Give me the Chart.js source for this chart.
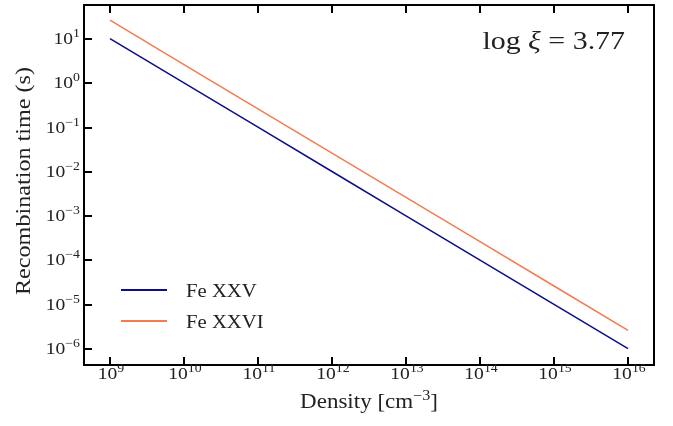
<!DOCTYPE html>
<html><head><meta charset="utf-8">
<script src="https://cdn.jsdelivr.net/npm/chart.js@4/dist/chart.umd.min.js"></script>
<style>html,body{margin:0;padding:0;background:#fff}#w{width:673px;height:426px}</style>
</head><body><div id="w"><canvas id="c"></canvas></div>
<script>
const density = [1e9, 1e10, 1e11, 1e12, 1e13, 1e14, 1e15, 1e16];
const feXXV = [10.2, 1.02, 0.102, 0.0102, 1.02e-3, 1.02e-4, 1.02e-5, 1.02e-6];
const feXXVI = [26.5, 2.65, 0.265, 0.0265, 2.65e-3, 2.65e-4, 2.65e-5, 2.65e-6];
const xTickExps = [9, 10, 11, 12, 13, 14, 15, 16];
const yTickExps = [-6, -5, -4, -3, -2, -1, 0, 1];
const seriesLabels = ['Fe XXV', 'Fe XXVI'];
const xTitle = ['Density [cm', '−3', ']'];
const yTitle = 'Recombination time (s)';
const annotationValue = '3.77';

const SERIF = '"Liberation Serif", "DejaVu Serif", serif';
const TXT = '#222';
const SX = 1.15; // horizontal widening to approximate the wider serif of the reference

// draw a sequence of [text, fontSize, dy, italic] runs, starting at x (already in stretched space)
function runsWidth(ctx, runs) {
  let w = 0;
  runs.forEach(r => { ctx.font = (r[3] ? 'italic ' : '') + r[1] + 'px ' + SERIF; w += ctx.measureText(r[0]).width; });
  return w * SX;
}
function drawRuns(ctx, runs, x, y, align) {
  const w = runsWidth(ctx, runs);
  let sx = align === 'right' ? x - w : align === 'center' ? x - w / 2 : x;
  ctx.save();
  ctx.translate(sx, y);
  ctx.scale(SX, 1);
  let cx = 0;
  ctx.textAlign = 'left'; ctx.textBaseline = 'alphabetic';
  runs.forEach(r => {
    ctx.font = (r[3] ? 'italic ' : '') + r[1] + 'px ' + SERIF;
    ctx.fillText(r[0], cx, r[2]);
    cx += ctx.measureText(r[0]).width;
  });
  ctx.restore();
}

const frame = {
  id: 'frame',
  afterDraw(chart) {
    const ctx = chart.ctx, a = chart.chartArea;
    const xs = chart.scales.x, ys = chart.scales.y;
    ctx.save();
    ctx.strokeStyle = '#000';
    ctx.lineWidth = 2;
    ctx.strokeRect(a.left, a.top, a.right - a.left, a.bottom - a.top);
    const L = 8;
    ctx.beginPath();
    xTickExps.forEach(e => {
      const px = Math.round(xs.getPixelForValue(Math.pow(10, e)));
      ctx.moveTo(px, a.bottom); ctx.lineTo(px, a.bottom - L);
      ctx.moveTo(px, a.top); ctx.lineTo(px, a.top + L);
    });
    yTickExps.forEach(e => {
      const py = Math.round(ys.getPixelForValue(Math.pow(10, e)));
      ctx.moveTo(a.left, py); ctx.lineTo(a.left + L, py);
    });
    ctx.stroke();

    ctx.fillStyle = TXT;
    // tick labels
    xTickExps.forEach(e => {
      const px = xs.getPixelForValue(Math.pow(10, e));
      drawRuns(ctx, [['10', 17, 0], [String(e), 12, -7]], px + 1, a.bottom + 14, 'center');
    });
    yTickExps.forEach(e => {
      const py = ys.getPixelForValue(Math.pow(10, e));
      const ex = e < 0 ? '−' + (-e) : String(e);
      drawRuns(ctx, [['10', 17, 0], [ex, 12, -7]], a.left - 4, py + 5, 'right');
    });
    // axis titles
    drawRuns(ctx, [[xTitle[0], 20, 0], [xTitle[1], 14, -8], [xTitle[2], 20, 0]], (a.left + a.right) / 2, 408, 'center');
    ctx.save();
    ctx.translate(30, (a.top + a.bottom) / 2 - 4);
    ctx.rotate(-Math.PI / 2);
    drawRuns(ctx, [[yTitle, 21, 0]], 0, 0, 'center');
    ctx.restore();

    // legend
    const lx = a.left + 37, ly0 = 290, dy = 31;
    chart.data.datasets.forEach((ds, i) => {
      const y = ly0 + i * dy;
      ctx.strokeStyle = ds.borderColor; ctx.lineWidth = 2;
      ctx.beginPath(); ctx.moveTo(lx, y); ctx.lineTo(lx + 46, y); ctx.stroke();
      ctx.fillStyle = TXT;
      drawRuns(ctx, [[ds.label, 18, 0]], lx + 65, y + 7, 'left');
    });
    // annotation
    drawRuns(ctx, [['log ', 26, 0], ['ξ', 26, 0, true], [' = ' + annotationValue, 26, 0]], 625, 49, 'right');
    ctx.restore();
  }
};

new Chart(document.getElementById('c'), {
  type: 'line',
  data: {
    datasets: [
      { label: seriesLabels[0], data: density.map((d, i) => ({x: d, y: feXXV[i]})), borderColor: '#0c0c8c', borderWidth: 1.5, pointRadius: 0, fill: false, tension: 0 },
      { label: seriesLabels[1], data: density.map((d, i) => ({x: d, y: feXXVI[i]})), borderColor: '#f47a52', borderWidth: 1.5, pointRadius: 0, fill: false, tension: 0 }
    ]
  },
  options: {
    responsive: true, maintainAspectRatio: false, animation: false,
    layout: { padding: { left: 0, right: 19, top: 5, bottom: 0 } },
    plugins: { legend: { display: false }, tooltip: { enabled: false } },
    scales: {
      x: {
        type: 'logarithmic', min: Math.pow(10, 8.649), max: Math.pow(10, 16.351),
        afterBuildTicks: s => { s.ticks = xTickExps.map(e => ({ value: Math.pow(10, e) })); },
        afterFit: s => { s.height = 61; },
        grid: { display: false, drawTicks: false },
        border: { display: false },
        ticks: { display: false }
      },
      y: {
        type: 'logarithmic', min: Math.pow(10, -6.36), max: Math.pow(10, 1.767),
        afterBuildTicks: s => { s.ticks = yTickExps.map(e => ({ value: Math.pow(10, e) })); },
        afterFit: s => { s.width = 84; },
        grid: { display: false, drawTicks: false },
        border: { display: false },
        ticks: { display: false }
      }
    }
  },
  plugins: [frame]
});
</script></body></html>
